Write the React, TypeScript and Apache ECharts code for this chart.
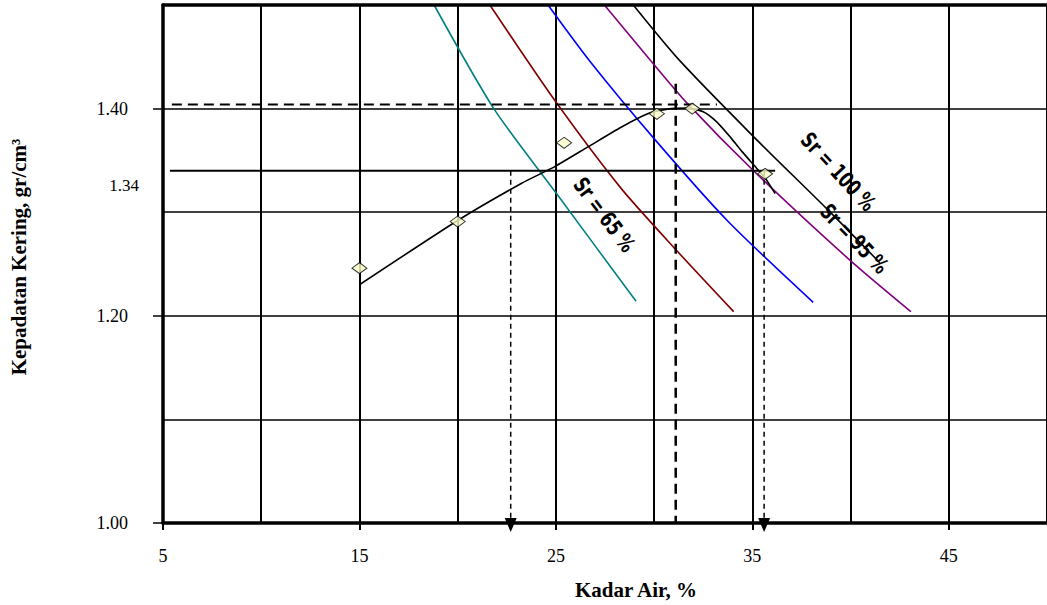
import React, { useEffect, useRef } from "react";
import * as echarts from "echarts";

type Pt = [number, number];

// Axis ticks that carry labels
const xTickLabels: number[] = [5, 15, 25, 35, 45];
const yTickLabels: number[] = [1.0, 1.2, 1.4];

// Degree-of-saturation lines: water content (%) vs dry density (gr/cm3)
const sr65: Pt[] = [[18.8, 1.5], [21.84, 1.4], [25.03, 1.318], [29.08, 1.214]];
const sr75: Pt[] = [[21.64, 1.5], [24.94, 1.408], [28.32, 1.323], [31.1, 1.264], [34.05, 1.204]];
const sr85: Pt[] = [[24.6, 1.5], [26.72, 1.446], [30.0, 1.371], [33.72, 1.292], [38.1, 1.213]];
const sr95: Pt[] = [[27.47, 1.5], [29.84, 1.446], [31.69, 1.405], [35.06, 1.34], [39.95, 1.254], [43.07, 1.204]];
const sr100: Pt[] = [[28.94, 1.5], [31.27, 1.447], [35.06, 1.373], [38.86, 1.302], [41.5, 1.251]];

// Compaction test results and the fitted compaction curve
const testPoints: Pt[] = [[15, 1.246], [20, 1.291], [25.42, 1.367], [30.14, 1.395], [31.94, 1.4], [35.65, 1.337]];
const compactionCurve: Pt[] = [
  [15, 1.23], [20, 1.292], [23.26, 1.328], [24.94, 1.344], [26.63, 1.363], [28.32, 1.382],
  [29.67, 1.395], [30.68, 1.3995], [31.69, 1.4005], [32.5, 1.397], [33.2, 1.387], [33.9, 1.372],
  [34.5, 1.358], [35.1, 1.345], [35.65, 1.333], [36.16, 1.318],
];

// Maximum dry density / optimum water content
const maxDensity = 1.404;
const optimumWater = 31.1;
const maxDensityLineX: Pt = [5.45, 33.2];
const optimumLineTop = 1.424;

// Density 1.34 and the water contents where the curve reaches it
const densityMark = 1.34;
const densityLineX: Pt = [5.35, 36.16];
const waterAtMark: number[] = [22.7, 35.6];

const srLabels: string[] = ["Sr = 65 %", "Sr = 100 %", "Sr = 95 %"];

const serif = '"Liberation Serif", "Times New Roman", serif';
const narrow = '"Liberation Sans Narrow", "DejaVu Sans Condensed", "Liberation Sans", sans-serif';

function satLine(name: string, data: Pt[], color: string) {
  return {
    type: "line",
    name,
    data,
    symbol: "none",
    smooth: 0.25,
    silent: true,
    lineStyle: { color, width: 1.6 },
    z: 3,
  };
}

function arrowLine(x: number) {
  return {
    type: "line",
    data: [
      { value: [x, densityMark], symbol: "none" },
      { value: [x, 1.0] },
    ],
    symbol: "triangle",
    symbolSize: [12, 14],
    symbolRotate: 180,
    symbolOffset: [0, 2],
    showSymbol: true,
    clip: false,
    silent: true,
    itemStyle: { color: "#000" },
    lineStyle: { color: "#000", width: 1.5, type: [5, 4] },
    z: 4,
  };
}

const gridLineAxis = {
  type: "value",
  axisLine: { show: false },
  axisTick: { show: false },
  axisLabel: { show: false },
};

export default function App() {
  const ref = useRef<HTMLDivElement>(null);

  useEffect(() => {
    if (!ref.current) return;
    const chart = echarts.init(ref.current, undefined, { renderer: "svg" });

    const option: any = {
      animation: false,
      backgroundColor: "#fff",
      grid: { left: 159, top: 5, width: 889, height: 519 },
      xAxis: [
        {
          type: "value",
          min: 5,
          max: 50,
          axisLine: { show: true, onZero: false, lineStyle: { color: "#000", width: 3.5 } },
          axisTick: { show: true, customValues: xTickLabels, length: 7, lineStyle: { color: "#000", width: 2 } },
          axisLabel: { customValues: xTickLabels, margin: 24, color: "#000", fontFamily: serif, fontSize: 18 },
          splitLine: { show: false },
          name: "Kadar Air, %",
          nameLocation: "middle",
          nameGap: 56,
          nameTextStyle: { color: "#000", fontFamily: serif, fontWeight: "bold", fontSize: 21, padding: [0, 0, 0, 62] },
          z: 10,
        },
        {
          type: "value",
          position: "top",
          min: 5,
          max: 50,
          axisLine: { show: true, onZero: false, lineStyle: { color: "#000", width: 3.5 } },
          axisTick: { show: false },
          axisLabel: { show: false },
          splitLine: { show: false },
          z: 10,
        },
        {
          ...gridLineAxis,
          position: "bottom",
          min: 5,
          max: 50,
          interval: 5,
          splitLine: { show: true, lineStyle: { color: "#000", width: 2 } },
        },
      ],
      yAxis: [
        {
          type: "value",
          min: 1.0,
          max: 1.5,
          axisLine: { show: true, onZero: false, lineStyle: { color: "#000", width: 3.5 } },
          axisTick: { show: true, customValues: yTickLabels, length: 10, lineStyle: { color: "#000", width: 1.5 } },
          axisLabel: {
            customValues: yTickLabels,
            margin: 35,
            color: "#000",
            fontFamily: serif,
            fontSize: 18,
            formatter: (v: number) => v.toFixed(2),
          },
          splitLine: { show: false },
          name: "Kepadatan Kering, gr/cm³",
          nameLocation: "middle",
          nameRotate: 90,
          nameGap: 134,
          nameTextStyle: { color: "#000", fontFamily: serif, fontWeight: "bold", fontSize: 21, padding: [0, 0, 0, 14] },
          z: 10,
        },
        {
          ...gridLineAxis,
          position: "left",
          min: 1.0,
          max: 1.5,
          interval: 0.1,
          splitLine: { show: true, lineStyle: { color: "#000", width: 1.5 } },
        },
      ],
      series: [
        satLine("Sr 65", sr65, "#008080"),
        satLine("Sr 75", sr75, "#800000"),
        satLine("Sr 85", sr85, "#0000FF"),
        satLine("Sr 95", sr95, "#800080"),
        satLine("Sr 100", sr100, "#000000"),
        {
          type: "line",
          name: "Kurva pemadatan",
          data: compactionCurve,
          symbol: "none",
          smooth: 0.2,
          silent: true,
          lineStyle: { color: "#000", width: 1.6 },
          z: 5,
        },
        {
          type: "line",
          data: [[maxDensityLineX[0], maxDensity], [maxDensityLineX[1], maxDensity]],
          symbol: "none",
          silent: true,
          lineStyle: { color: "#000", width: 2, type: [10, 6] },
          z: 4,
        },
        {
          type: "line",
          data: [[optimumWater, optimumLineTop], [optimumWater, 1.0]],
          symbol: "none",
          silent: true,
          lineStyle: { color: "#000", width: 2.5, type: [10, 6] },
          z: 4,
        },
        {
          type: "line",
          data: [[densityLineX[0], densityMark], [densityLineX[1], densityMark]],
          symbol: "none",
          silent: true,
          lineStyle: { color: "#000", width: 2 },
          z: 4,
        },
        arrowLine(waterAtMark[0]),
        arrowLine(waterAtMark[1]),
        {
          type: "scatter",
          name: "Data uji",
          data: testPoints,
          symbol: "diamond",
          symbolSize: [15, 11],
          silent: true,
          itemStyle: { color: "#FFFFCC", borderColor: "#000", borderWidth: 1 },
          z: 6,
        },
      ],
    };

    chart.setOption(option);

    const mark = chart.convertToPixel({ xAxisIndex: 0, yAxisIndex: 0 }, [5, densityMark]) as number[];
    const deg = Math.PI / 180;
    const srStyle = (text: string) => ({
      text,
      fill: "#000",
      fontFamily: narrow,
      fontWeight: "bold",
      fontSize: 22,
      align: "center",
      verticalAlign: "middle",
    });

    chart.setOption({
      graphic: [
        {
          type: "text",
          x: mark[0] - 24,
          y: mark[1] + 15,
          style: {
            text: densityMark.toFixed(2),
            fill: "#000",
            fontFamily: serif,
            fontSize: 17,
            align: "right",
            verticalAlign: "middle",
          },
        },
        { type: "text", x: 604, y: 215, rotation: -53 * deg, scaleX: 0.8, style: srStyle(srLabels[0]) },
        { type: "text", x: 838, y: 172, rotation: -47 * deg, scaleX: 0.8, style: srStyle(srLabels[1]) },
        { type: "text", x: 854, y: 239, rotation: -46 * deg, scaleX: 0.8, style: srStyle(srLabels[2]) },
      ],
    });

    return () => chart.dispose();
  }, []);

  return (
    <div
      ref={ref}
      style={{ position: "fixed", left: 0, top: 0, width: 1047, height: 605, background: "#fff" }}
    />
  );
}
